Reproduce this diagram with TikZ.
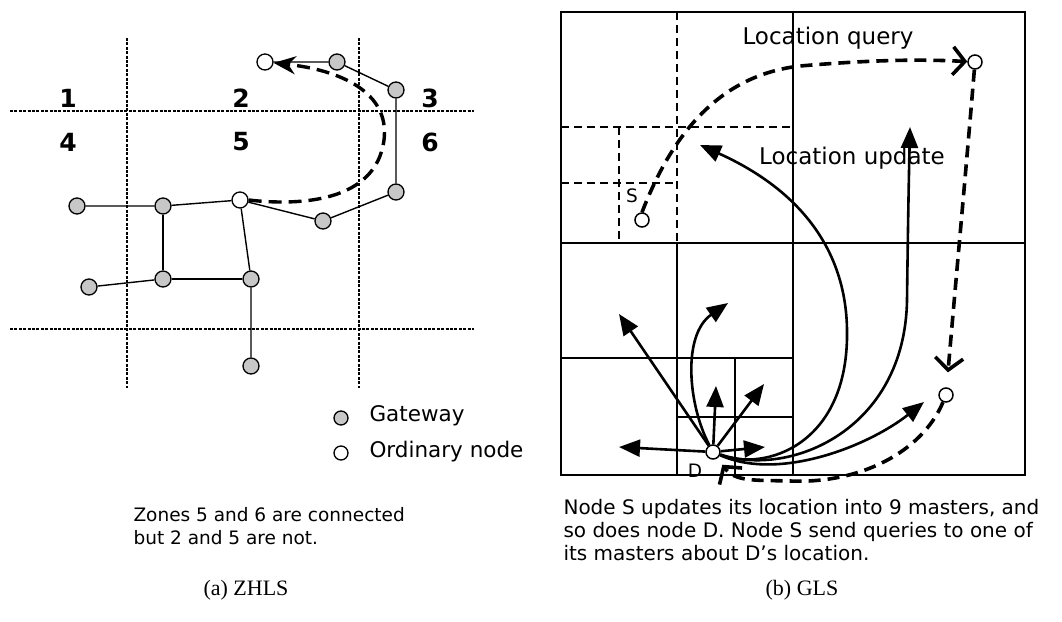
\documentclass[tikz,border=0pt]{standalone}
\usepackage{fontspec}
\setmainfont{DejaVu Sans}
\newfontfamily\capfont{Liberation Serif}
\usepackage{tikz}
\usetikzlibrary{arrows.meta}
\tikzset{>={Latex}}

\begin{document}
\begin{tikzpicture}[x=1pt, y=-1pt, font=\fontsize{18.5}{23}\selectfont]

  \tikzset{gw/.style={circle, draw, fill=black!22, minimum size=16pt,
                      inner sep=0pt, line width=1.3pt},
           ord/.style={circle, draw, fill=white, minimum size=16pt,
                       inner sep=0pt, line width=1.3pt},
           mst/.style={ord, minimum size=14pt, line width=1.5pt},
           zone/.style={line width=2.6pt, dash pattern=on 3pt off 1.4pt},
           link/.style={line width=1.4pt},
           grid/.style={line width=1.7pt},
           cell/.style={line width=1.7pt, dash pattern=on 8pt off 5pt},
           upd/.style={line width=2.6pt, -{Triangle[length=21pt,width=17pt]}},
           qry/.style={line width=3.6pt, dash pattern=on 12pt off 7pt,
                       -{Straight Barb[length=12pt,width=28pt]}},
           route/.style={line width=3.4pt, dash pattern=on 13pt off 7pt,
                         -{Stealth[length=22pt,width=18pt]}},
           zn/.style={font=\fontsize{25}{25}\selectfont\bfseries}}

  \useasboundingbox (0,0) rectangle (1062,621);

  % (a) ZHLS zones
  \draw[zone] (10,111) -- (474,111);
  \draw[zone] (10,329) -- (474,329);
  \draw[zone] (127,38) -- (127,388);
  \draw[zone] (359,38) -- (359,388);
  \foreach \z/\px/\py in {1/68/98, 2/241/98, 3/430/98,
                          4/68/142, 5/241/142, 6/430/142}
    \node[zn] (z\z) at (\px,\py) {\z};

  % gateways and ordinary nodes
  \node[ord] (o1) at (265,62) {};
  \node[ord] (o2) at (240,200) {};
  \foreach \i/\px/\py in {1/337/62, 2/396/90, 3/396/192, 4/323/221,
                          5/163/206, 6/77/206, 7/163/279, 8/251/279,
                          9/89/287, 10/251/366}
    \node[gw] (g\i) at (\px,\py) {};
  \draw[link] (o1) -- (g1) -- (g2) -- (g3) -- (g4) -- (o2);
  \draw[link] (g6) -- (g5) -- (o2) -- (g8) -- (g10);
  \draw[link] (g5) -- (g7) -- (g8);
  \draw[link] (g9) -- (g7);
  \draw[route] (o2.east) .. controls (300,206) and (376,202) .. (384,140)
               .. controls (390,92) and (340,70) .. (o1);

  % legend
  \node[gw, minimum size=14pt] (lgw) at (341,418) {};
  \node[ord, minimum size=14pt] (lord) at (341,453) {};
  \node[anchor=west, font=\fontsize{21.5}{22}\selectfont] at (366,416) {Gateway};
  \node[anchor=west, font=\fontsize{21.5}{22}\selectfont] at (366,452) {Ordinary node};

  % (b) GLS grid
  \draw[line width=2pt] (561,12) rectangle (1025,475);
  \draw[grid] (793,12) -- (793,475);
  \draw[grid] (561,243) -- (1025,243);
  \draw[grid] (677,243) -- (677,475);
  \draw[grid] (561,358) -- (793,358);
  \draw[grid] (677,417) -- (793,417);
  \draw[grid] (735,358) -- (735,475);
  \draw[cell] (677,12) -- (677,243);
  \draw[cell] (561,127) -- (793,127);
  \draw[cell] (561,183) -- (677,183);
  \draw[cell] (619,127) -- (619,243);

  % sources and masters
  \node[mst] (s) at (642,220) {};
  \node (slab) at (632,196) {S};
  \node[mst] (mq) at (975,62) {};
  \node[mst] (md) at (946,395) {};
  \node[mst] (d) at (713,452) {};
  \node (dlab) at (695,471) {D};
  \node[font=\fontsize{23}{23}\selectfont] (lq) at (828,38) {Location query};
  \node[font=\fontsize{23}{23}\selectfont] (lu) at (852,158) {Location update};

  % location updates of D
  \coordinate (t1) at (619,447);
  \coordinate (t2) at (765,447);
  \coordinate (t3) at (716,386);
  \coordinate (t4) at (764,384);
  \coordinate (t5) at (619,314);
  \coordinate (t6) at (728,303);
  \coordinate (t7) at (700,145);
  \coordinate (t8) at (910,127);
  \coordinate (t9) at (924,402);
  \draw[upd] (d) -- (t1);
  \draw[upd] (d) -- (t2);
  \draw[upd] (d) -- (t3);
  \draw[upd] (d) -- (t4);
  \draw[upd] (d) -- (t5);
  \draw[upd] (d) .. controls (688,405) and (682,335) .. (t6);
  \draw[upd] (d) .. controls (765,472) and (849,445) .. (847,330)
             .. controls (846,250) and (800,190) .. (t7);
  \draw[upd] (d) .. controls (790,478) and (905,430) .. (907,300)
             .. controls (908,220) and (909,170) .. (t8);
  \draw[upd] (d) .. controls (780,482) and (870,445) .. (t9);

  % query from S
  \draw[qry] (s.north) .. controls (668,145) and (712,76) .. (800,66)
             .. controls (870,60) and (920,59) .. (mq);
  \draw[qry, shorten >=15pt] (mq) .. controls (966,170) and (955,290) .. (md);
  \draw[qry, shorten >=8pt] (md) .. controls (922,452) and (860,484) .. (790,481)
             .. controls (755,480) and (735,482) .. (d);

  % captions
  \node[anchor=west, align=left] (capa) at (130,526)
    {Zones 5 and 6 are connected\\but 2 and 5 are not.};
  \node[anchor=west, align=left, font=\fontsize{20}{23}\selectfont] (capb) at (560,530)
    {Node S updates its location into 9 masters, and\\so does node D. Node S send queries to one of\\its masters about D's location.};
  \node[font=\capfont\fontsize{22}{22}\selectfont] (ta) at (246,590) {(a) ZHLS};
  \node[font=\capfont\fontsize{22}{22}\selectfont] (tb) at (802,590) {(b) GLS};

\end{tikzpicture}
\end{document}
